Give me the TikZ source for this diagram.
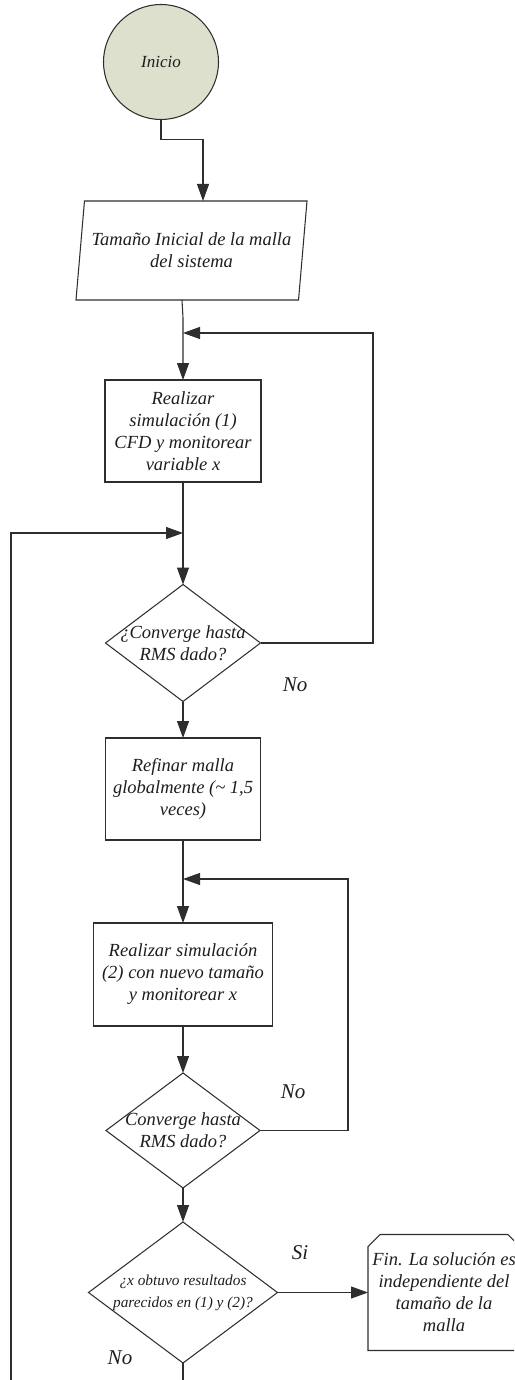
\documentclass[tikz,border=0pt]{standalone}
\usepackage{fontspec}
\setmainfont{Liberation Serif}
\usetikzlibrary{arrows.meta,shapes.geometric,shapes.misc}
\definecolor{startfill}{HTML}{DDE0CC}
\definecolor{ink}{HTML}{1E1E1E}
\definecolor{wire}{HTML}{2E2E2E}
% one centred line of zero width, so the text never widens its shape
\newcommand\oneline[1]{\makebox[0pt]{#1}}

\begin{document}
\begin{tikzpicture}[x=1pt,y=-1pt,
  every node/.style={inner sep=0pt, outer sep=0pt, text=ink, align=center,
    font=\fontsize{18.5}{22}\selectfont\itshape},
  shp/.style={draw=wire, line width=1.05pt},
  box/.style={shp, rectangle},
  dia/.style={shp, diamond},
  lbl/.style={font=\fontsize{21}{24}\selectfont\itshape},
  arr/.style={draw=wire, line width=1.05pt, -{Triangle[length=17pt,width=12pt]}}
]
\useasboundingbox (0,0) rectangle (514,1380);
\clip (0,0) rectangle (514,1380);

% process steps
\node[circle, shp, fill=startfill, minimum size=115pt,
      font=\fontsize{17}{20}\selectfont\itshape] (start) at (161,62) {Inicio};
\node[trapezium, trapezium left angle=76.4, trapezium right angle=103.6,
      trapezium stretches body, shp, minimum width=231pt, minimum height=99pt]
      (input) at (191.5,250.5) {\oneline{Tamaño Inicial de la malla}\\\oneline{del sistema}};
\node[box, minimum width=156pt, minimum height=102pt] (sim1) at (183,431)
      {Realizar\\simulación (1)\\CFD y monitorear\\variable x};
\node[dia, minimum width=155pt, minimum height=117pt] (d1) at (183,643)
      {\oneline{¿Converge hasta}\\\oneline{RMS dado?}};
\node[box, minimum width=155pt, minimum height=102pt] (refine) at (183,789)
      {Refinar malla\\globalmente (\textasciitilde{} 1,5\\veces)};
\node[box, minimum width=179pt, minimum height=103pt] (sim2) at (183,974.5)
      {Realizar simulación\\(2) con nuevo tamaño\\y monitorear x};
\node[dia, minimum width=154pt, minimum height=115pt] (d2) at (183,1130.5)
      {\oneline{Converge hasta}\\\oneline{RMS dado?}};
\node[dia, minimum width=189pt, minimum height=141pt,
      font=\fontsize{15.3}{22}\selectfont\itshape] (d3) at (183,1292.5)
      {\oneline{¿x obtuvo resultados}\\\oneline{parecidos en (1) y (2)?}};
\node[chamfered rectangle, chamfered rectangle corners={north west,north east},
      chamfered rectangle xsep=12pt, chamfered rectangle ysep=14pt, shp,
      minimum width=152pt, minimum height=116pt] (fin) at (444,1292.5)
      {\oneline{Fin. La solución es}\\\oneline{independiente del}\\
       \oneline{tamaño de la}\\\oneline{malla}};

% branch labels
\node[lbl] (no1) at (295,685) {No};
\node[lbl] (no2) at (293,1092) {No};
\node[lbl] (si) at (300,1253) {Si};
\node[lbl] (no3) at (120,1358) {No};

% junctions and loop corners
\coordinate (j1) at (183,333);
\coordinate (r1) at (373,333);
\coordinate (j2) at (183,533);
\coordinate (l2) at (11,533);
\coordinate (j3) at (183,879);
\coordinate (r2) at (348,879);
\coordinate (drop) at (183,1400);
\coordinate (lb) at (11,1400);

% connectors
\draw[arr] (start.south) -- ++(0,20) -| ([xshift=11.5pt]input.north);
\draw[arr] ([xshift=-1pt]input.south -| sim1.north) -- ++(1,18) -- (sim1.north);
\draw[arr] (d1.east) -| (r1) -- (j1);
\draw[arr] (sim1.south) -- (d1.north);
\draw[arr] (d3.south) -- (drop) -- (lb) -- (l2) -- (j2);
\draw[arr] (d1.south) -- (refine.north);
\draw[arr] (refine.south) -- (sim2.north);
\draw[arr] (d2.east) -| (r2) -- (j3);
\draw[arr] (sim2.south) -- (d2.north);
\draw[arr] (d2.south) -- (d3.north);
\draw[arr] (d3.east) -- (fin.west);
\end{tikzpicture}
\end{document}
